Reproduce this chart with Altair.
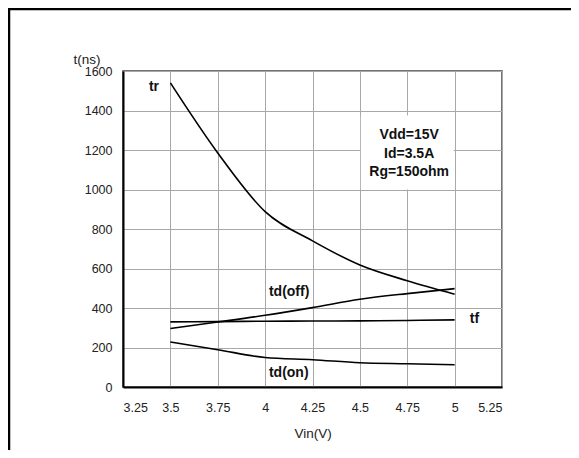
import altair as alt
import pandas as pd

# ---- data ----
vin = [3.5, 3.75, 4.0, 4.25, 4.5, 4.75, 5.0]
tr = [1540, 1185, 888, 740, 618, 538, 470]
td_off = [296, 329, 363, 402, 444, 473, 498]
tf = [330, 331, 333, 334, 335, 337, 340]
td_on = [228, 189, 149, 138, 123, 118, 113]

series_names = ["tr", "td(off)", "tf", "td(on)"]
series_values = [tr, td_off, tf, td_on]

label_text = ["tr", "td(off)", "tf", "td(on)"]
label_x = [3.44, 4.02, 5.08, 4.02]
label_y = [1520, 480, 343, 70]
label_align = ["right", "left", "left", "left"]

note_lines = ["Vdd=15V", "Id=3.5A", "Rg=150ohm"]
note_x = [4.76, 4.76, 4.76]
note_y = [1274, 1178, 1087]
note_box_x = [4.505, 4.995]
note_box_y = [1000, 1375]

x_ticks = [3.25, 3.5, 3.75, 4.0, 4.25, 4.5, 4.75, 5.0, 5.25]
y_ticks = [0, 200, 400, 600, 800, 1000, 1200, 1400, 1600]

rows = []
for name, vals in zip(series_names, series_values):
    for xv, yv in zip(vin, vals):
        rows.append({"series": name, "x": xv, "y": yv})
df = pd.DataFrame(rows)

labels_df = pd.DataFrame({"t": label_text, "x": label_x, "y": label_y, "a": label_align})
note_df = pd.DataFrame({"t": note_lines, "x": note_x, "y": note_y})
box_df = pd.DataFrame({"x": [note_box_x[0]], "x2": [note_box_x[1]],
                       "y": [note_box_y[0]], "y2": [note_box_y[1]]})

FONT = "Liberation Sans"
W, H = 379, 316

xscale = alt.Scale(domain=[3.25, 5.25], nice=False, zero=False)
yscale = alt.Scale(domain=[0, 1600], nice=False)

xaxis = alt.Axis(values=x_ticks, labelExpr="format(datum.value, '~g')",
                 title="Vin(V)", titleY=46, titleBaseline="middle",
                 titleFontWeight="normal", titleFontSize=13.5, titleFont=FONT,
                 labelPadding=14, labelFontSize=12.5, labelOverlap=False)
yaxis = alt.Axis(values=y_ticks, format="d", title="t(ns)", titleAngle=0, titleAlign="left",
                 titleX=-50, titleY=-12, titleBaseline="middle",
                 titleFontWeight="normal", titleFontSize=13.5, titleFont=FONT,
                 labelPadding=11, labelFontSize=12.5, labelOverlap=False)

X = alt.X("x:Q", scale=xscale, axis=xaxis)
Y = alt.Y("y:Q", scale=yscale, axis=yaxis)

box = alt.Chart(box_df).mark_rect(color="white").encode(
    x=X, x2="x2:Q", y=Y, y2="y2:Q",
)

lines = alt.Chart(df).mark_line(color="black", strokeWidth=1.6, interpolate="monotone").encode(
    x=X, y=Y, detail="series:N",
)

notes = alt.Chart(note_df).mark_text(font=FONT, fontSize=14, fontWeight="bold",
                                     color="#111", align="center", baseline="middle").encode(
    x=X, y=Y, text="t:N"
)

lab_right = alt.Chart(labels_df[labels_df.a == "right"]).mark_text(
    font=FONT, fontSize=14, fontWeight="bold", color="#111", align="right", baseline="middle"
).encode(x=X, y=Y, text="t:N")

lab_left = alt.Chart(labels_df[labels_df.a == "left"]).mark_text(
    font=FONT, fontSize=14, fontWeight="bold", color="#111", align="left", baseline="middle"
).encode(x=X, y=Y, text="t:N")

top_border = alt.Chart(box_df).mark_rule(color="black", strokeWidth=2.5).encode(
    x=alt.value(-115), x2=alt.value(460), y=alt.value(-62)
)
left_border = alt.Chart(box_df).mark_rule(color="black", strokeWidth=2.5).encode(
    x=alt.value(-114), y=alt.value(-63), y2=alt.value(400)
)

chart = alt.layer(box, lines, notes, lab_right, lab_left, top_border, left_border).properties(
    width=W, height=H,
    autosize=alt.AutoSizeParams(type="none"),
    padding={"left": 115, "top": 63, "right": 69, "bottom": 63},
).configure_view(
    stroke="#444", strokeWidth=1.5
).configure_axis(
    grid=True, gridColor="#a8a8a8", gridWidth=1,
    ticks=False, domain=True, domainColor="black", domainWidth=2,
    labelFont=FONT, labelColor="#222", titleColor="#222",
)

chart.save("out.html", embed_options={"renderer": "svg", "actions": False})
